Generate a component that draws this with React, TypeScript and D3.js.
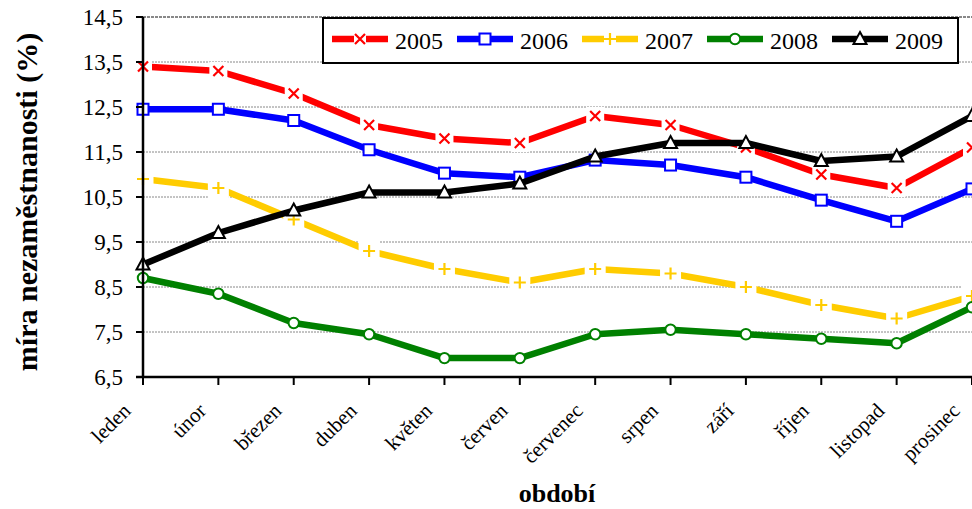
import React from 'react';
import * as d3 from 'd3';

const months = ['leden', 'únor', 'březen', 'duben', 'květen', 'červen', 'červenec', 'srpen', 'září', 'říjen', 'listopad', 'prosinec'];
const yTicks = [6.5, 7.5, 8.5, 9.5, 10.5, 11.5, 12.5, 13.5, 14.5];

const v2005 = [13.4, 13.3, 12.8, 12.1, 11.8, 11.7, 12.3, 12.1, 11.6, 11.0, 10.7, 11.6];
const v2006 = [12.45, 12.45, 12.2, 11.55, 11.03, 10.94, 11.32, 11.21, 10.94, 10.43, 9.96, 10.68];
const v2007 = [10.9, 10.7, 10.0, 9.3, 8.9, 8.6, 8.9, 8.8, 8.5, 8.1, 7.8, 8.3];
const v2008 = [8.7, 8.35, 7.7, 7.45, 6.92, 6.92, 7.45, 7.55, 7.45, 7.35, 7.25, 8.05];
const v2009 = [9.0, 9.7, 10.2, 10.6, 10.6, 10.8, 11.4, 11.7, 11.7, 11.3, 11.4, 12.3];

type Marker = 'x' | 'square' | 'plus' | 'circle' | 'triangle';

const series: { name: string; values: number[]; color: string; marker: Marker; halo: number }[] = [
    { name: '2005', values: v2005, color: '#FF0000', marker: 'x', halo: 18 },
    { name: '2006', values: v2006, color: '#0000FF', marker: 'square', halo: 0 },
    { name: '2007', values: v2007, color: '#FFCC00', marker: 'plus', halo: 21 },
    { name: '2008', values: v2008, color: '#008000', marker: 'circle', halo: 0 },
    { name: '2009', values: v2009, color: '#000000', marker: 'triangle', halo: 0 },
];

const W = 972;
const H = 509;
const margin = { left: 143, right: 0, top: 17, bottom: 132 };
const serif = "'Liberation Serif', 'Times New Roman', serif";

// x and + markers get a white square behind them, which cuts the line around the point
const MarkerShape: React.FC<{ x: number; y: number; kind: Marker; color: string; halo: number }> = ({ x, y, kind, color, halo }) => {
    const h = halo > 0 ? <rect x={x - halo / 2} y={y - halo / 2} width={halo} height={halo} fill="#fff" /> : null;
    switch (kind) {
        case 'x':
            return (
                <g>
                    {h}
                    <path d={`M${x - 5},${y - 5}L${x + 5},${y + 5}M${x - 5},${y + 5}L${x + 5},${y - 5}`} stroke={color} strokeWidth={2.2} />
                </g>
            );
        case 'plus':
            return (
                <g>
                    {h}
                    <path d={`M${x - 6},${y}L${x + 6},${y}M${x},${y - 6}L${x},${y + 6}`} stroke={color} strokeWidth={2.2} />
                </g>
            );
        case 'square':
            return <rect x={x - 5.5} y={y - 5.5} width={11} height={11} fill="#fff" stroke={color} strokeWidth={2} />;
        case 'circle':
            return <circle cx={x} cy={y} r={5.2} fill="#fff" stroke={color} strokeWidth={2} />;
        case 'triangle':
            return <path d={`M${x},${y - 7}L${x + 6.5},${y + 5}L${x - 6.5},${y + 5}Z`} fill="#fff" stroke={color} strokeWidth={2} />;
    }
};

export default function App() {
    const x = d3.scalePoint<string>().domain(months).range([margin.left, W - margin.right]);
    const y = d3.scaleLinear().domain([6.5, 14.5]).range([H - margin.bottom, margin.top]);
    const line = d3.line<number>().x((_, i) => x(months[i]) as number).y(d => y(d));
    const x0 = margin.left;
    const yBase = y(6.5);
    const txt: React.CSSProperties = { fontFamily: serif };

    return (
        <svg width={W} height={H} style={{ position: 'absolute', left: 0, top: 0, background: '#fff', fontFamily: serif }}>
            {/* gridlines */}
            {yTicks.filter(t => t > 6.5).map(t => (
                <line key={t} x1={x0} x2={W} y1={y(t)} y2={y(t)}
                    stroke="#888" strokeWidth={t === 14.5 ? 2 : 1} strokeDasharray={t === 14.5 ? '3 1' : '2 1'} />
            ))}

            {/* series */}
            {series.map(s => (
                <g key={s.name}>
                    <path d={line(s.values) ?? ''} fill="none" stroke={s.color} strokeWidth={6.5} strokeLinejoin="round" />
                    {s.values.map((v, i) => (
                        <MarkerShape key={i} x={x(months[i]) as number} y={y(v)} kind={s.marker} color={s.color} halo={s.halo} />
                    ))}
                </g>
            ))}

            {/* axes */}
            <line x1={x0} x2={x0} y1={y(14.5)} y2={yBase} stroke="#000" strokeWidth={2.5} />
            <line x1={x0 - 7} x2={W} y1={yBase} y2={yBase} stroke="#000" strokeWidth={2.5} />
            {yTicks.map(t => (
                <g key={t}>
                    <line x1={x0 - 7} x2={x0} y1={y(t)} y2={y(t)} stroke="#000" strokeWidth={2} />
                    <text x={x0 - 20} y={y(t)} dy="0.33em" textAnchor="end" fontSize={23} style={txt}>{String(t).replace('.', ',')}</text>
                </g>
            ))}
            {months.map(m => {
                const mx = x(m) as number;
                return (
                    <g key={m}>
                        <line x1={mx} x2={mx} y1={yBase} y2={yBase + 8} stroke="#000" strokeWidth={2} />
                        <text transform={`translate(${mx - 11},${yBase + 35}) rotate(-45)`} textAnchor="end" fontSize={21} style={txt}>{m}</text>
                    </g>
                );
            })}

            {/* axis titles */}
            <text transform={`translate(37,${(y(14.5) + yBase) / 2 + 5}) rotate(-90)`} textAnchor="middle" fontSize={30} fontWeight="bold" style={txt}>
                míra nezaměstnanosti (%)
            </text>
            <text x={557} y={502} textAnchor="middle" fontSize={26} fontWeight="bold" style={txt}>období</text>

            {/* legend */}
            <rect x={323} y={18} width={635} height={45} fill="#fff" stroke="#000" strokeWidth={2} />
            {series.map((s, i) => {
                const lx = 332 + i * 125;
                const ly = 39;
                return (
                    <g key={s.name}>
                        <line x1={lx} x2={lx + 56} y1={ly} y2={ly} stroke={s.color} strokeWidth={6.5} />
                        <MarkerShape x={lx + 28} y={ly} kind={s.marker} color={s.color} halo={s.halo > 0 ? 12 : 0} />
                        <text x={lx + 63} y={49} fontSize={24} style={txt}>{s.name}</text>
                    </g>
                );
            })}
        </svg>
    );
}
